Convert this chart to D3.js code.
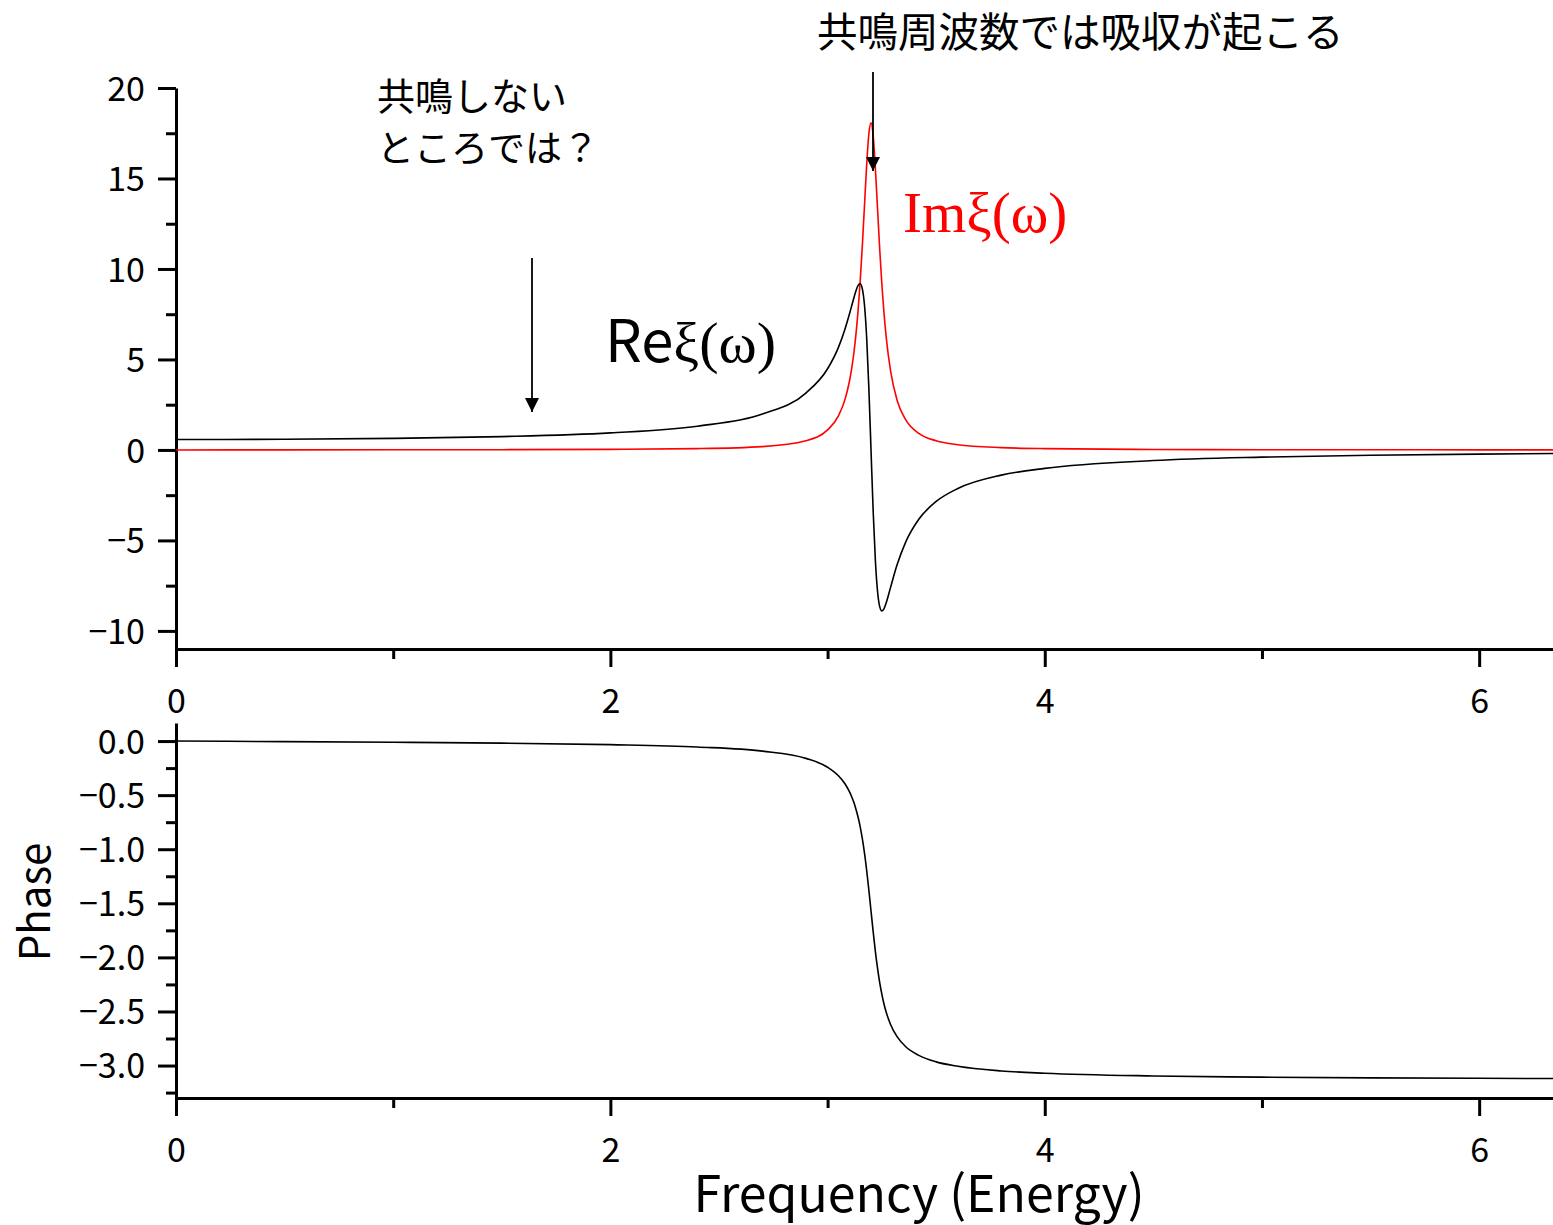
<!DOCTYPE html>
<html>
<head>
<meta charset="utf-8">
<script src="https://cdn.jsdelivr.net/npm/d3@7"></script>
<style>
  body { margin: 0; background: #fff; }
  svg text { font-family: "Noto Sans CJK JP", "Liberation Sans", sans-serif; }
</style>
</head>
<body>
<div id="plot"></div>
<script>
//Frequency samples (denser around the resonance)
const omega = [0, 0.5, 1.0, 1.5, 2.0, 2.4, 2.7, 2.9, 3.0, 3.05, 3.08, 3.10, 3.11, 3.12, 3.13,
    3.14, 3.15, 3.16, 3.17, 3.18, 3.19, 3.20, 3.21, 3.22, 3.23, 3.24, 3.25, 3.26, 3.27,
    3.29, 3.32, 3.36, 3.42, 3.5, 3.6, 3.8, 4.0, 4.5, 5.0, 5.5, 6.0, 6.34];
//Real part (black curve)
const reXi = [0.576, 0.591, 0.638, 0.738, 0.945, 1.313, 1.983, 3.142, 4.485, 5.669, 6.670, 7.481,
    7.918, 8.358, 8.765, 9.076, 9.181, 8.902, 7.993, 6.197, 3.429, 0.0, -3.398, -6.092, -7.809,
    -8.656, -8.896, -8.769, -8.446, -7.594, -6.351, -5.080, -3.831, -2.846, -2.130, -1.393,
    -1.019, -0.588, -0.399, -0.295, -0.229, -0.197];
//Imaginary part (red curve)
const imXi = [0.0, 0.003, 0.007, 0.014, 0.031, 0.072, 0.185, 0.508, 1.107, 1.881, 2.781, 3.755,
    4.423, 5.261, 6.315, 7.642, 9.291, 11.279, 13.523, 15.752, 17.460, 18.075, 17.355, 15.582,
    13.337, 11.105, 9.144, 7.523, 6.220, 4.363, 2.749, 1.659, 0.918, 0.505, 0.288, 0.129,
    0.072, 0.027, 0.014, 0.008, 0.005, 0.004];
//Phase (lower panel)
const phase = [0.0, -0.005, -0.011, -0.019, -0.033, -0.055, -0.093, -0.160, -0.242, -0.321,
    -0.395, -0.466, -0.510, -0.562, -0.625, -0.700, -0.791, -0.903, -1.037, -1.196, -1.377,
    -1.571, -1.764, -1.944, -2.100, -2.233, -2.342, -2.433, -2.507, -2.620, -2.733, -2.826,
    -2.906, -2.966, -3.007, -3.050, -3.071, -3.096, -3.107, -3.114, -3.118, -3.120];

const xTicksMajor = [0, 2, 4, 6];
const xTicksMinor = [1, 3, 5];
const topTicksMajor = [-10, -5, 0, 5, 10, 15, 20];
const topTicksMinor = [-7.5, -2.5, 2.5, 7.5, 12.5, 17.5];
const phaseTicksMajor = [0, -0.5, -1.0, -1.5, -2.0, -2.5, -3.0];
const phaseTicksMinor = [-0.25, -0.75, -1.25, -1.75, -2.25, -2.75, -3.25];

const w = 1553;
const h = 1225;
const left = 176;
const right = 1553;

const svg = d3.select("#plot")
    .append("svg")
    .attr("width", w)
    .attr("height", h);

//Shared x scale
const x = d3.scaleLinear().domain([0, 6.34]).range([left, right]);

//Upper and lower y scales
const yTop = d3.scaleLinear().domain([-11, 20]).range([649, 88]);
const yPhase = d3.scaleLinear().domain([-3.3, 0.167]).range([1098, 723]);

const fmtInt = d3.format("d");
const fmt1 = d3.format(".1f");

//Draws a left axis with major + minor ticks
const drawY = (scale, major, minor, fmt) => {
    const g = svg.append("g").attr("transform", "translate(" + left + ",0)");
    g.append("g")
        .call(d3.axisLeft(scale).tickValues(minor).tickSize(10).tickSizeOuter(0).tickFormat(""))
        .select(".domain").remove();
    const ax = g.append("g")
        .call(d3.axisLeft(scale).tickValues(major).tickSize(18).tickSizeOuter(0).tickFormat(fmt));
    ax.selectAll("text")
        .attr("x", -31)
        .attr("dy", "0.36em")
        .attr("font-size", 34)
        .attr("fill", "#000");
    g.selectAll("line").attr("stroke-width", 3).attr("stroke", "#000");
    g.selectAll(".domain").attr("stroke-width", 3).attr("stroke", "#000");
};

//Draws a bottom axis with major + minor ticks
const drawX = (yPos) => {
    const g = svg.append("g").attr("transform", "translate(0," + yPos + ")");
    g.append("g")
        .call(d3.axisBottom(x).tickValues(xTicksMinor).tickSize(10).tickSizeOuter(0).tickFormat(""))
        .select(".domain").remove();
    const ax = g.append("g")
        .call(d3.axisBottom(x).tickValues(xTicksMajor).tickSize(18).tickSizeOuter(0).tickFormat(fmtInt));
    ax.selectAll("text")
        .attr("y", 64)
        .attr("dy", null)
        .attr("font-size", 34)
        .attr("fill", "#000");
    g.selectAll("line").attr("stroke-width", 3).attr("stroke", "#000");
    g.selectAll(".domain").attr("stroke-width", 3).attr("stroke", "#000");
};

drawY(yTop, topTicksMajor, topTicksMinor, fmtInt);
drawX(649);
drawY(yPhase, phaseTicksMajor, phaseTicksMinor, fmt1);
drawX(1098);

//Curves
const lineOf = (yScale, values) => d3.line()
    .x((d, i) => x(omega[i]))
    .y((d, i) => yScale(values[i]))
    .curve(d3.curveMonotoneX)(omega);

svg.append("path")
    .attr("d", lineOf(yTop, imXi))
    .attr("fill", "none")
    .attr("stroke", "#ff0000")
    .attr("stroke-width", 1.6);
svg.append("path")
    .attr("d", lineOf(yTop, reXi))
    .attr("fill", "none")
    .attr("stroke", "#000")
    .attr("stroke-width", 1.6);
svg.append("path")
    .attr("d", lineOf(yPhase, phase))
    .attr("fill", "none")
    .attr("stroke", "#000")
    .attr("stroke-width", 1.6);

//Arrow marker
svg.append("defs").append("marker")
    .attr("id", "head")
    .attr("viewBox", "0 0 10 10")
    .attr("refX", 10)
    .attr("refY", 5)
    .attr("markerWidth", 14)
    .attr("markerHeight", 14)
    .attr("markerUnits", "userSpaceOnUse")
    .attr("orient", "auto")
    .append("path")
    .attr("d", "M0,0 L10,5 L0,10 Z")
    .attr("fill", "#000");

const arrow = (x1, y1, y2) => svg.append("line")
    .attr("x1", x1).attr("x2", x1)
    .attr("y1", y1).attr("y2", y2)
    .attr("stroke", "#000")
    .attr("stroke-width", 1.8)
    .attr("marker-end", "url(#head)");

arrow(532, 258, 412);
arrow(873, 72, 171);

//Annotations
svg.append("text")
    .attr("x", 817).attr("y", 47)
    .attr("font-size", 40.5)
    .text("共鳴周波数では吸収が起こる");

svg.append("text")
    .attr("x", 377).attr("y", 110)
    .attr("font-size", 38)
    .text("共鳴しない");
svg.append("text")
    .attr("x", 377).attr("y", 162)
    .attr("font-size", 37)
    .text("ところでは？");

const reLabel = svg.append("text")
    .attr("x", 605).attr("y", 362)
    .attr("font-size", 58);
reLabel.append("tspan").text("Re");
reLabel.append("tspan").style("font-family", "'Liberation Serif', serif").text("ξ(ω)");

svg.append("text")
    .attr("x", 903).attr("y", 232)
    .attr("font-size", 57)
    .attr("fill", "#ff0000")
    .style("font-family", "'Liberation Serif', serif")
    .text("Imξ(ω)");

//Axis titles
svg.append("text")
    .attr("transform", "translate(50,902) rotate(-90)")
    .attr("text-anchor", "middle")
    .attr("font-size", 42)
    .text("Phase");

svg.append("text")
    .attr("x", 919).attr("y", 1212)
    .attr("text-anchor", "middle")
    .attr("font-size", 50)
    .text("Frequency (Energy)");
</script>
</body>
</html>
